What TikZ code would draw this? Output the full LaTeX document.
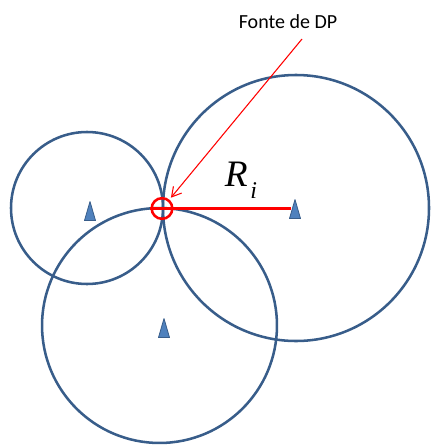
\documentclass[tikz,border=0pt]{standalone}
\usepackage{fontspec}
\setmainfont{Liberation Serif}
\newfontfamily\labelfont{Carlito}
\usetikzlibrary{arrows.meta}
\definecolor{ringblue}{RGB}{56,93,138}
\definecolor{markfill}{RGB}{79,129,189}
\begin{document}
\begin{tikzpicture}[x=0.75pt,y=-0.75pt,
  ring/.style={draw=ringblue,line width=1.9pt},
  redline/.style={draw=red,line width=1.6pt},
  pointer/.style={draw=red,line width=0.8pt,-{Straight Barb[length=7pt,width=8pt]}},
  marker/.pic={\filldraw[fill=markfill,draw=ringblue,line width=0.6pt,line join=round]
     (0,-9.5) -- (5.5,9.5) -- (-5.5,9.5) -- cycle;}]
\useasboundingbox (0,0) rectangle (430,446);
% circle centres
\coordinate (cL) at (87,208);
\coordinate (cR) at (296,208);
\coordinate (cB) at (159.5,325.5);
\draw[ring] (cL) circle[radius=57pt];
\draw[ring] (cR) circle[radius=99.75pt];
\draw[ring] (cB) circle[radius=88.1pt];
% station markers
\coordinate (tL) at (90,211);
\coordinate (tR) at (295,209);
\coordinate (tB) at (164,328);
\pic at (tL) {marker};
\pic at (tR) {marker};
\pic at (tB) {marker};
% source
\node[circle,draw=red,line width=1.9pt,minimum size=15.5pt,inner sep=0pt] (src) at (162,208.5) {};
\draw[redline] (src.west) -- ([xshift=-3pt]tR |- src.west);
% label and pointer
\node[font=\labelfont\fontsize{15pt}{18pt}\selectfont] (lab) at (288,22) {Fonte de DP};
\coordinate (aStart) at (302,39);
\draw[pointer,shorten >=10.5pt] (aStart) -- (src.center);
\node[inner sep=0pt] (ri) at (241,180) {\fontsize{28pt}{30pt}\selectfont\itshape R\hspace{2pt}\raisebox{-9pt}{\fontsize{18pt}{20pt}\selectfont i}};
\end{tikzpicture}
\end{document}
